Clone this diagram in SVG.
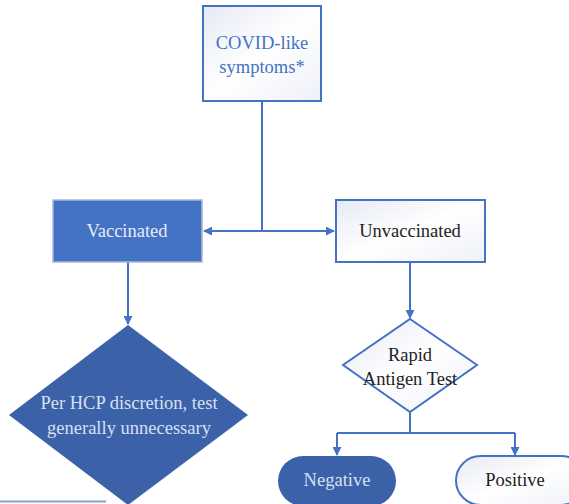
<svg xmlns="http://www.w3.org/2000/svg" width="569" height="504" viewBox="0 0 569 504">
<defs>
<linearGradient id="lg" x1="0" y1="0" x2="1" y2="1">
<stop offset="0" stop-color="#e6eaf4"/>
<stop offset="0.5" stop-color="#ffffff"/>
<stop offset="1" stop-color="#eef1f8"/>
</linearGradient>
<marker id="ah" viewBox="0 0 10 10" refX="9" refY="5" markerWidth="9" markerHeight="9" orient="auto-start-reverse" markerUnits="userSpaceOnUse">
<path d="M0,0 L10,5 L0,10 z" fill="#4472c4"/>
</marker>
<style>
.t{font-family:"Liberation Serif","DejaVu Serif",serif;font-size:18.5px;text-anchor:middle}
.c{fill:none;stroke:#4472c4;stroke-width:2}
.lt{fill:url(#lg);stroke:#4472c4;stroke-width:2}
.dk{fill:#3b62a8}
</style>
</defs>
<rect width="569" height="504" fill="#ffffff"/>
<g id="connectors">
<path class="c" d="M262,101 V231"/>
<path class="c" d="M262,231 H204" marker-end="url(#ah)"/>
<path class="c" d="M262,231 H334" marker-end="url(#ah)"/>
<path class="c" d="M128,262 V324" marker-end="url(#ah)"/>
<path class="c" d="M410,262 V318" marker-end="url(#ah)"/>
<path class="c" d="M410,412 V433 M337,433 H515"/>
<path class="c" d="M337,433 V455" marker-end="url(#ah)"/>
<path class="c" d="M515,433 V455" marker-end="url(#ah)"/>
<path d="M0,501.5 H106" stroke="#8aa0c8" stroke-width="2"/>
</g>
<g id="covid">
<rect class="lt" x="203" y="6" width="118" height="95"/>
<text class="t" x="262" y="49" fill="#4472c4">COVID-like</text>
<text class="t" x="262" y="73" fill="#4472c4">symptoms*</text>
</g>
<g id="vaccinated">
<rect x="53" y="200" width="149" height="62" fill="#4472c4" stroke="#a9b8d6" stroke-width="1.5"/>
<text class="t" x="127" y="237" fill="#e8ecf5">Vaccinated</text>
</g>
<g id="unvaccinated">
<rect class="lt" x="336" y="200" width="149" height="62"/>
<text class="t" x="410" y="237" fill="#222">Unvaccinated</text>
</g>
<g id="hcp">
<polygon class="dk" points="128,325 248,415 128,505 9,415"/>
<text class="t" x="129" y="409" fill="#d8e0f0">Per HCP discretion, test</text>
<text class="t" x="129" y="434" fill="#d8e0f0">generally unnecessary</text>
</g>
<g id="rapid">
<polygon class="lt" points="410,319 477,365 410,412 343,365"/>
<text class="t" x="410" y="361" fill="#222">Rapid</text>
<text class="t" x="410" y="385" fill="#222">Antigen Test</text>
</g>
<g id="negative">
<rect class="dk" x="278" y="456" width="118" height="50" rx="25"/>
<text class="t" x="337" y="486" fill="#d8e0f0">Negative</text>
</g>
<g id="positive">
<rect class="lt" x="456" y="456" width="130" height="49" rx="24.5"/>
<text class="t" x="515" y="486" fill="#222">Positive</text>
</g>
</svg>
